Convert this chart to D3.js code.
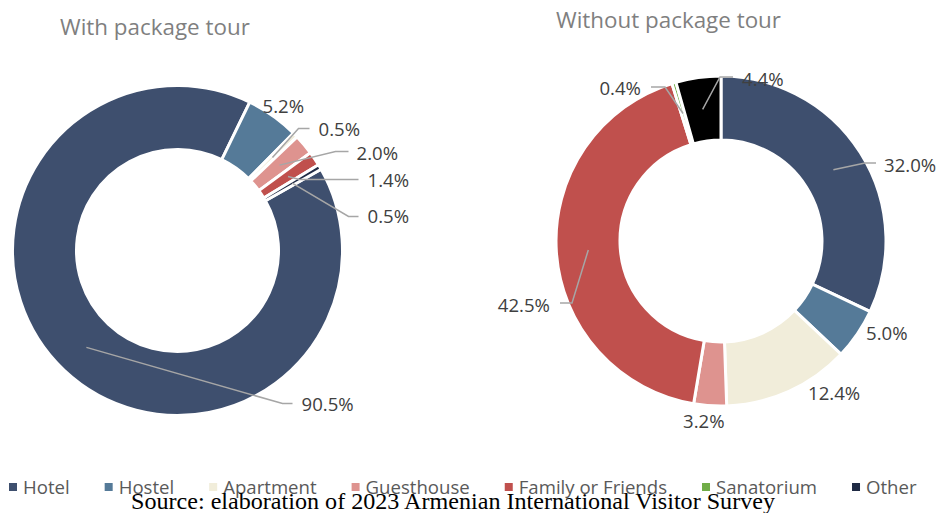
<!DOCTYPE html>
<html>
<head>
<meta charset="utf-8">
<script src="https://cdn.jsdelivr.net/npm/d3@7"></script>
<style>
  html, body { margin: 0; padding: 0; background: #fff; }
  svg { display: block; }
</style>
</head>
<body>
<svg id="chart" width="939" height="513"></svg>
<script>
// ---------- DATA ----------
const categories = ["Hotel", "Hostel", "Apartment", "Guesthouse", "Family or Friends", "Sanatorium", "Other"];
const withPackage = [90.5, 5.2, 0.5, 2.0, 1.4, 0, 0.5];
const withoutPackage = [32.0, 5.0, 12.4, 3.2, 42.5, 0.4, 4.4];
const withLabels = ["90.5%", "5.2%", "0.5%", "2.0%", "1.4%", "", "0.5%"];
const withoutLabels = ["32.0%", "5.0%", "12.4%", "3.2%", "42.5%", "0.4%", "4.4%"];
const titles = ["With package tour", "Without package tour"];
const sourceText = "Source: elaboration of 2023 Armenian International Visitor Survey";

// ---------- STYLE / LAYOUT ----------
const colors = ["#3E4F6E", "#557A98", "#F1EDDA", "#DE938F", "#C0504D", "#70AD47", "#1F2A44"];
const otherSliceColor = ["#1F2A44", "#000000"];
const charts = [
  { cx: 177.5, cy: 250.5, start: 60.5, values: withPackage, labels: withLabels, title: titles[0], titleX: 60, titleY: 35,
    // label layout per category: [textX, textY, anchor, elbowX, elbowY, endX] relative to centre (null = no leader)
    layout: [
      [124, 154, "start", 105, 153, 115],
      [85, -144, "start", null],
      [141, -121, "start", 121, -122, 132],
      [179, -97, "start", 158, -99, 171],
      [190, -70, "start", 122, -71, 181],
      null,
      [190, -34, "start", 171, -34, 181]
    ] },
  { cx: 721, cy: 241, start: 0, values: withoutPackage, labels: withoutLabels, title: titles[1], titleX: 556, titleY: 28,
    layout: [
      [163, -76, "start", 144, -78, 155],
      [145, 92, "start", null],
      [87, 152, "start", null],
      [-38, 180, "start", null],
      [-171, 64, "end", -149, 62, -161],
      [-80, -153, "end", -56, -154, -70],
      [21, -162, "start", -1, -164, 12]
    ] }
];

const innerR = 101, outerR = 165;
const svg = d3.select("#chart");
const sans = "'Open Sans', 'Noto Sans', sans-serif";

charts.forEach((c, ci) => {
  const a0 = c.start * Math.PI / 180;
  const pie = d3.pie().sort(null).value(d => d).startAngle(a0).endAngle(a0 + 2 * Math.PI);
  const arcs = pie(c.values);
  const arc = d3.arc().innerRadius(innerR).outerRadius(outerR);
  const g = svg.append("g").attr("transform", `translate(${c.cx},${c.cy})`);

  g.selectAll("path.slice")
    .data(arcs.filter(a => a.value > 0))
    .join("path")
    .attr("class", "slice")
    .attr("d", arc)
    .attr("fill", a => a.index === 6 ? otherSliceColor[ci] : colors[a.index])
    .attr("stroke", "#fff")
    .attr("stroke-width", 3)
    .attr("stroke-linejoin", "miter");

  arcs.forEach((a, i) => {
    const L = c.layout[i];
    if (!L || !c.labels[i]) return;
    const [tx, ty, anchor, ex, ey, endX] = L;
    if (ex !== null && ex !== undefined) {
      const [px, py] = arc.centroid(a);
      g.append("polyline")
        .attr("points", `${px},${py} ${ex},${ey} ${endX},${ey}`)
        .attr("fill", "none")
        .attr("stroke", "#A6A6A6")
        .attr("stroke-width", 1.5);
    }
    g.append("text")
      .attr("x", tx).attr("y", ty)
      .attr("dy", "0.36em")
      .attr("text-anchor", anchor)
      .attr("font-family", sans)
      .attr("font-size", 18.6)
      .attr("fill", "#404040")
      .text(c.labels[i]);
  });

  svg.append("text")
    .attr("x", c.titleX).attr("y", c.titleY)
    .attr("font-family", sans)
    .attr("font-size", 22.4)
    .attr("fill", "#7F7F7F")
    .text(c.title);
});

// ---------- LEGEND ----------
const legend = svg.append("g").attr("transform", "translate(9,487)");
let lx = 0;
categories.forEach((name, i) => {
  const item = legend.append("g").attr("transform", `translate(${lx},0)`);
  item.append("rect").attr("x", 0).attr("y", -4).attr("width", 8).attr("height", 8).attr("fill", colors[i]);
  const t = item.append("text")
    .attr("x", 14).attr("y", 0)
    .attr("dy", "0.36em")
    .attr("font-family", sans)
    .attr("font-size", 18.6)
    .attr("fill", "#595959")
    .text(name);
  lx += 14 + t.node().getComputedTextLength() + 35;
});

// ---------- SOURCE ----------
svg.append("text")
  .attr("x", 131).attr("y", 509)
  .attr("textLength", 644)
  .attr("lengthAdjust", "spacingAndGlyphs")
  .attr("font-family", "'Liberation Serif', 'Times New Roman', serif")
  .attr("font-size", 23)
  .attr("fill", "#000")
  .text(sourceText);
</script>
</body>
</html>
